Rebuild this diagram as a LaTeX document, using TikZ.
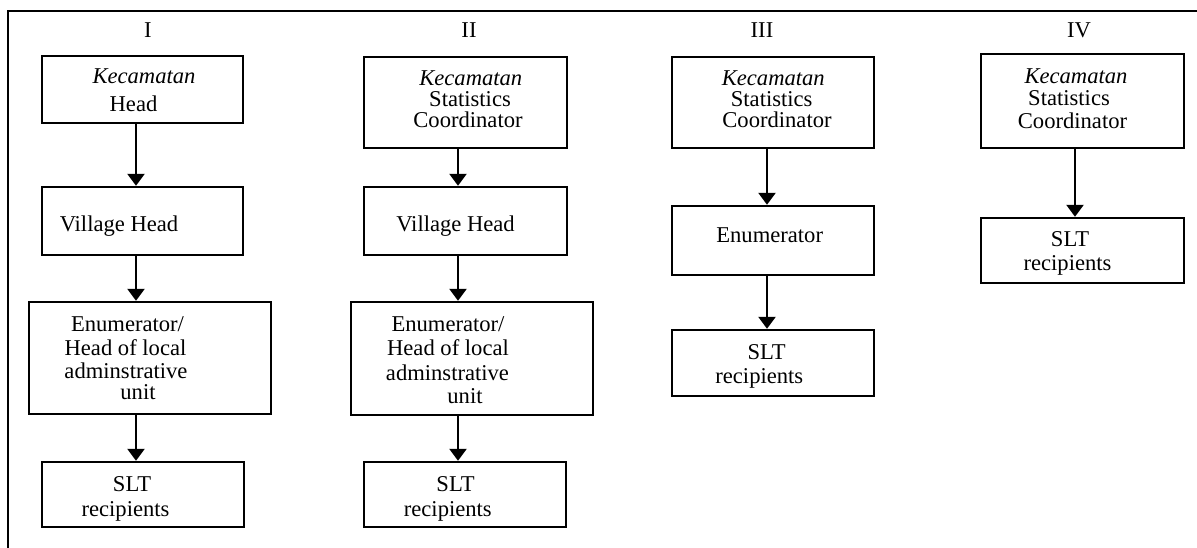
\documentclass[tikz,border=0pt]{standalone}
\usepackage{fontspec}
\setmainfont{Liberation Serif}
\usetikzlibrary{arrows.meta}
\tikzset{
  box/.style={draw, line width=2.4pt, inner sep=0pt},
  txt/.style={inner sep=0pt, anchor=base, font=\fontsize{22.6}{22.6}\selectfont},
  arr/.style={line width=2.4pt, -{Triangle[width=17pt,length=12pt]}},
  frame/.style={line width=2.6pt}
}
\begin{document}
\begin{tikzpicture}[x=1pt,y=-1pt]
\useasboundingbox (0,0) rectangle (1197,548);
\draw[frame] (8,548) -- (8,11) -- (1197,11);

% column headings
\node[txt] (hI) at (148,38) {I};
\node[txt] (hII) at (469,38) {II};
\node[txt] (hIII) at (762,38) {III};
\node[txt] (hIV) at (1079,38) {IV};

% arrow columns
\coordinate (cI) at (136,0);
\coordinate (cII) at (458,0);
\coordinate (cIII) at (767,0);
\coordinate (cIV) at (1075,0);

% Column I
\node[box, minimum width=201pt, minimum height=67pt] (a1) at (142.5,89.5) {};
\node[box, minimum width=201pt, minimum height=68pt] (a2) at (142.5,221) {};
\node[box, minimum width=242pt, minimum height=112pt] (a3) at (150,358) {};
\node[box, minimum width=202pt, minimum height=65pt] (a4) at (143,494.5) {};
\node[txt] (a1t1) at (144,84) {\itshape Kecamatan};
\node[txt] (a1t2) at (133.5,112) {Head};
\node[txt] (a2t1) at (119,232) {Village Head};
\node[txt] (a3t1) at (127.5,331.7) {Enumerator/};
\node[txt] (a3t2) at (125.5,355) {Head of local};
\node[txt] (a3t3) at (126,378.5) {adminstrative};
\node[txt] (a3t4) at (138,399.5) {unit};
\node[txt] (a4t1) at (132,491.7) {SLT};
\node[txt] (a4t2) at (125.5,516.7) {recipients};
\draw[arr] (a1.south -| cI) -- (a2.north -| cI);
\draw[arr] (a2.south -| cI) -- (a3.north -| cI);
\draw[arr] (a3.south -| cI) -- (a4.north -| cI);

% Column II
\node[box, minimum width=203pt, minimum height=91pt] (b1) at (465.5,102.5) {};
\node[box, minimum width=203pt, minimum height=68pt] (b2) at (465.5,221) {};
\node[box, minimum width=242pt, minimum height=113pt] (b3) at (472,358.5) {};
\node[box, minimum width=202pt, minimum height=65pt] (b4) at (465,494.5) {};
\node[txt] (b1t1) at (470.8,86) {\itshape Kecamatan};
\node[txt] (b1t2) at (470,106.5) {Statistics};
\node[txt] (b1t3) at (468,127.7) {Coordinator};
\node[txt] (b2t1) at (455.5,231.7) {Village Head};
\node[txt] (b3t1) at (448,331.7) {Enumerator/};
\node[txt] (b3t2) at (448,355) {Head of local};
\node[txt] (b3t3) at (447.5,380) {adminstrative};
\node[txt] (b3t4) at (465,403) {unit};
\node[txt] (b4t1) at (455.5,491.7) {SLT};
\node[txt] (b4t2) at (447.8,516.7) {recipients};
\draw[arr] (b1.south -| cII) -- (b2.north -| cII);
\draw[arr] (b2.south -| cII) -- (b3.north -| cII);
\draw[arr] (b3.south -| cII) -- (b4.north -| cII);

% Column III
\node[box, minimum width=202pt, minimum height=91pt] (c1) at (773,102.5) {};
\node[box, minimum width=202pt, minimum height=69pt] (c2) at (773,240.5) {};
\node[box, minimum width=202pt, minimum height=66pt] (c3) at (773,363) {};
\node[txt] (c1t1) at (773.3,86) {\itshape Kecamatan};
\node[txt] (c1t2) at (771.7,107) {Statistics};
\node[txt] (c1t3) at (777,128) {Coordinator};
\node[txt] (c2t1) at (769.7,243) {Enumerator};
\node[txt] (c3t1) at (766.7,359) {SLT};
\node[txt] (c3t2) at (759.3,383) {recipients};
\draw[arr] (c1.south -| cIII) -- (c2.north -| cIII);
\draw[arr] (c2.south -| cIII) -- (c3.north -| cIII);

% Column IV
\node[box, minimum width=203pt, minimum height=94pt] (d1) at (1082.5,101) {};
\node[box, minimum width=203pt, minimum height=65pt] (d2) at (1082.5,250.5) {};
\node[txt] (d1t1) at (1076,84) {\itshape Kecamatan};
\node[txt] (d1t2) at (1069,106) {Statistics};
\node[txt] (d1t3) at (1072.5,128.3) {Coordinator};
\node[txt] (d2t1) at (1070,246.7) {SLT};
\node[txt] (d2t2) at (1067.5,270.7) {recipients};
\draw[arr] (d1.south -| cIV) -- (d2.north -| cIV);
\end{tikzpicture}
\end{document}
